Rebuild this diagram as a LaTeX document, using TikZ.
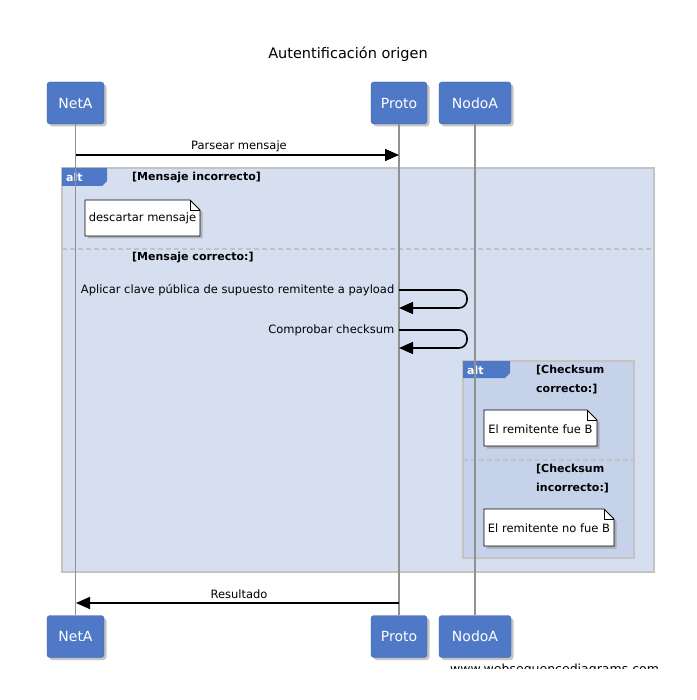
\documentclass[tikz,border=0pt]{standalone}
\usepackage{fontspec}
\setmainfont{DejaVu Sans}
\usetikzlibrary{arrows.meta,shadows}
\definecolor{partblue}{RGB}{79,121,198}
\definecolor{outerfill}{RGB}{214,223,240}
\definecolor{innerfill}{RGB}{197,210,234}
\definecolor{framegray}{RGB}{195,195,195}
\definecolor{lifegray}{RGB}{145,145,145}
\tikzset{
  part/.style={draw=partblue!80!black, fill=partblue, rounded corners=3pt, text=white,
    minimum height=42, inner sep=0pt, font=\fontsize{14}{16}\selectfont,
    drop shadow={shadow xshift=2.5pt, shadow yshift=-2.5pt, opacity=0.45}},
  life/.style={draw=lifegray, line width=1.6pt},
  msg/.style={draw=black, line width=1.6pt, -{Triangle[length=14pt,width=12pt]}},
  lbl/.style={font=\fontsize{11.5}{13}\selectfont, inner sep=0pt},
  guard/.style={font=\bfseries\fontsize{11}{18.5}\selectfont, inner sep=0pt, align=left},
  frame/.style={draw=framegray, line width=1.5pt},
  tab/.style={fill=partblue, draw=none},
  tabtxt/.style={text=white, font=\bfseries\fontsize{11}{13}\selectfont, inner sep=0pt},
  sep/.style={draw=framegray, line width=1.2pt, dash pattern=on 5pt off 3pt},
  notebox/.style={draw=black, line width=0.8pt, fill=white,
    drop shadow={shadow xshift=2.5pt, shadow yshift=-2.5pt, opacity=0.45}},
  notetxt/.style={font=\fontsize{11.5}{13}\selectfont, inner sep=0pt}
}
\begin{document}
\begin{tikzpicture}[x=1pt,y=-1pt]
\useasboundingbox[fill=white] (0,0) rectangle (696,700);

% title
\node[font=\fontsize{14.5}{17}\selectfont] (title) at (348,54) {Autentificación origen};

% outer alt frame
\draw[frame, fill=outerfill] (62,168) rectangle (654,572);
\fill[tab] (62,168) -- (107,168) -- (107,181) -- (102,186) -- (62,186) -- cycle;
\node[tabtxt, anchor=west] (alt1) at (66,177) {alt};
\node[guard, anchor=west] (g1) at (132,178) {[Mensaje incorrecto]};
\draw[sep] (62,249) -- (654,249);
\node[guard, anchor=west] (g2) at (132,258) {[Mensaje correcto:]};

% inner alt frame
\draw[frame, fill=innerfill] (463,361) rectangle (634,558);
\fill[tab] (463,361) -- (510,361) -- (510,373) -- (505,378) -- (463,378) -- cycle;
\node[tabtxt, anchor=west] (alt2) at (467,370) {alt};
\node[guard, anchor=north west] (g3) at (536,365) {[Checksum\\correcto:]};
\draw[sep] (463,460) -- (634,460);
\node[guard, anchor=north west] (g4) at (536,464) {[Checksum\\incorrecto:]};

% participants
\node[part, minimum width=57] (netaT) at (75.5,103) {NetA};
\node[part, minimum width=56] (protoT) at (399,103) {Proto};
\node[part, minimum width=72] (nodoT) at (475,103) {NodoA};
\node[part, minimum width=57] (netaB) at (75.5,636.5) {NetA};
\node[part, minimum width=56] (protoB) at (399,636.5) {Proto};
\node[part, minimum width=72] (nodoB) at (475,636.5) {NodoA};

% lifelines
\draw[life] (netaT.south) -- (netaB.north);
\draw[life] (protoT.south) -- (protoB.north);
\draw[life] (nodoT.south) -- (nodoB.north);

% message 1
\coordinate (m1a) at (76,155);
\coordinate (m1b) at (399,155);
\draw[msg] (m1a) -- (m1b);
\node[lbl] (l1) at (239,146) {Parsear mensaje};

% note 1
\draw[notebox] (85,200) -- (190,200) -- (200,210) -- (200,236) -- (85,236) -- cycle;
\draw[line width=0.8pt] (190,200) -- (190,210) -- (200,210);
\node[notetxt] (n1) at (142.5,218.5) {descartar mensaje};

% self message 1
\coordinate (s1a) at (399,290);
\coordinate (s1b) at (399,308);
\draw[msg, rounded corners=8pt] (s1a) -- (467,290) -- (467,308) -- (s1b);
\node[lbl, anchor=east] (l2) at (394.5,290) {Aplicar clave pública de supuesto remitente a payload};

% self message 2
\coordinate (s2a) at (399,330);
\coordinate (s2b) at (399,348);
\draw[msg, rounded corners=8pt] (s2a) -- (467,330) -- (467,348) -- (s2b);
\node[lbl, anchor=east] (l3) at (394.5,330) {Comprobar checksum};

% note 2
\draw[notebox] (484,410) -- (587,410) -- (597,420) -- (597,446) -- (484,446) -- cycle;
\draw[line width=0.8pt] (587,410) -- (587,420) -- (597,420);
\node[notetxt] (n2) at (540.5,429) {El remitente fue B};

% note 3
\draw[notebox] (484,509) -- (604,509) -- (614,519) -- (614,546) -- (484,546) -- cycle;
\draw[line width=0.8pt] (604,509) -- (604,519) -- (614,519);
\node[notetxt] (n3) at (549,528) {El remitente no fue B};

% result
\coordinate (r1a) at (399,603);
\coordinate (r1b) at (76,603);
\draw[msg] (r1a) -- (r1b);
\node[lbl] (l4) at (239,594) {Resultado};

% watermark
\begin{scope}
\clip (440,655) rectangle (680,668.5);
\node[font=\fontsize{12.5}{14}\selectfont, inner sep=0pt, anchor=west] (wm) at (450,670) {www.websequencediagrams.com};
\end{scope}
\end{tikzpicture}
\end{document}
